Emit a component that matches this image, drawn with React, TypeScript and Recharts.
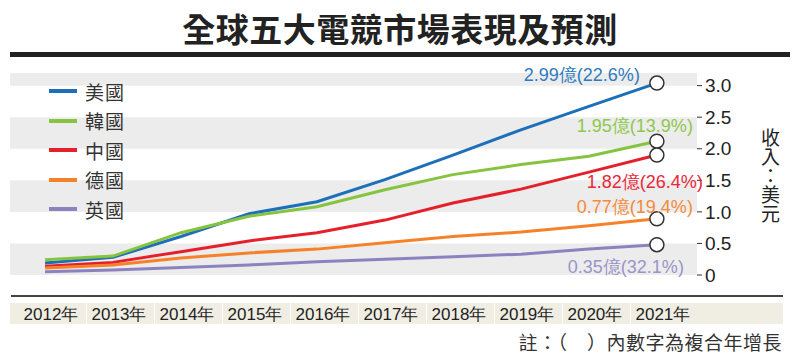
import { LineChart, Line, XAxis, YAxis, ReferenceArea, LabelList } from 'recharts';

// values (unit: 億美元, plotted against the right axis)
const years = ['2012年', '2013年', '2014年', '2015年', '2016年', '2017年', '2018年', '2019年', '2020年', '2021年'];
const usValues = [0.19, 0.28, 0.61, 0.97, 1.16, 1.51, 1.9, 2.3, 2.67, 3.04];
const krValues = [0.24, 0.3, 0.67, 0.93, 1.08, 1.35, 1.59, 1.75, 1.88, 2.12];
const cnValues = [0.14, 0.2, 0.37, 0.54, 0.67, 0.87, 1.14, 1.36, 1.63, 1.9];
const deValues = [0.11, 0.16, 0.27, 0.35, 0.41, 0.51, 0.61, 0.68, 0.78, 0.89];
const ukValues = [0.05, 0.08, 0.12, 0.16, 0.21, 0.25, 0.29, 0.33, 0.41, 0.48];
const countryNames = ['美國', '韓國', '中國', '德國', '英國'];
const endLabels = ['2.99億(22.6%)', '1.95億(13.9%)', '1.82億(26.4%)', '0.77億(19.4%)', '0.35億(32.1%)'];
const yTicks = [0, 0.5, 1, 1.5, 2, 2.5, 3];
const bandRanges: [number, number][] = [
  [0, 0.5],
  [1, 1.5],
  [2, 2.5],
  [3, 3.2],
];

const keys = ['us', 'kr', 'cn', 'de', 'uk'];
const lineColors = ['#1c6fb8', '#86c440', '#e5202b', '#f5822a', '#8d82c0'];
const labelColors = ['#2f7bc0', '#8cc84b', '#e8283a', '#f58a3a', '#9a94c8'];
// end label anchor offsets from the 2021 point
const labelOffsets = [
  [-17, -8],
  [36, -15],
  [46, 27],
  [36, -12],
  [27, 22],
];

const data = years.map((year, i) => ({
  pos: i,
  year,
  us: usValues[i],
  kr: krValues[i],
  cn: cnValues[i],
  de: deValues[i],
  uk: ukValues[i],
}));

const last = years.length - 1;
// x domain leaves room either side of the first / last year, like the original
const xDomain: [number, number] = [-0.515, last + 0.59];
const xTicks = years.map((_, i) => i);
const sans = 'Liberation Sans, Arial, sans-serif';
const cjk = '"Noto Sans CJK TC", "Noto Sans CJK SC", sans-serif';

function YearTick({ x, payload, index }: any) {
  const cx = x + 7;
  const left = index === 0 ? 10 : cx - 33;
  const right = index === last ? 783 : cx + 34;
  return (
    <g>
      <rect x={left} y={303} width={right - left} height={21} fill="#f0ede3" />
      <text x={x + 6} y={314} textAnchor="middle" dominantBaseline="central" fontSize={17} fontFamily={sans} fill="#222">
        {years[payload.value]}
      </text>
    </g>
  );
}

function endDot(p: any) {
  if (p.index !== last) return <g key={p.key ?? p.index} />;
  return <circle key={p.key ?? p.index} cx={p.cx} cy={p.cy} r={7} fill="#fff" stroke="#333" strokeWidth={1.5} />;
}

function endLabel(s: number) {
  return (p: any) => {
    if (p.index !== last) return null;
    return (
      <text
        x={p.x + labelOffsets[s][0]}
        y={p.y + labelOffsets[s][1]}
        textAnchor="end"
        dominantBaseline="central"
        fontSize={18}
        fontFamily={sans}
        fill={labelColors[s]}
      >
        {endLabels[s]}
      </text>
    );
  };
}

export default function App() {
  return (
    <div style={{ position: 'absolute', left: 0, top: 0, width: 800, height: 362, background: '#fff', overflow: 'hidden' }}>
      <div
        style={{
          position: 'absolute',
          left: 0,
          top: 8,
          width: 800,
          textAlign: 'center',
          fontFamily: cjk,
          fontWeight: 700,
          fontSize: 33,
          lineHeight: '40px',
          color: '#222',
          letterSpacing: 0.5,
        }}
      >
        全球五大電競市場表現及預測
      </div>
      <div style={{ position: 'absolute', left: 10, top: 52, width: 780, height: 5, background: '#222' }} />

      <LineChart width={800} height={362} data={data} margin={{ top: 73, right: 53, bottom: 57, left: 10 }}>
        {bandRanges.map(([a, b]) => (
          <ReferenceArea
            key={a}
            x1={xDomain[0]}
            x2={xDomain[1]}
            y1={a}
            y2={b}
            fill="#ececec"
            fillOpacity={1}
            stroke="none"
            ifOverflow="hidden"
          />
        ))}
        <XAxis
          dataKey="pos"
          type="number"
          domain={xDomain}
          allowDataOverflow
          ticks={xTicks}
          axisLine={false}
          tickLine={false}
          height={30}
          interval={0}
          tick={<YearTick />}
        />
        <YAxis
          orientation="right"
          domain={[0, 3.2]}
          ticks={yTicks}
          width={50}
          axisLine={false}
          tickSize={5}
          tickMargin={3}
          tickLine={{ stroke: '#333' }}
          tickFormatter={(v: number) => (v === 0 ? '0' : v.toFixed(1))}
          tick={{ fontSize: 19, fontFamily: sans, fill: '#222', textAnchor: 'start' }}
        />
        {keys.map((k, s) => (
          <Line
            key={k}
            dataKey={k}
            type="linear"
            stroke={lineColors[s]}
            strokeWidth={3}
            dot={endDot}
            activeDot={false}
            isAnimationActive={false}
          >
            <LabelList dataKey={k} content={endLabel(s)} />
          </Line>
        ))}
      </LineChart>

      {countryNames.map((name, s) => (
        <div
          key={name}
          style={{ position: 'absolute', left: 49, top: 79 + s * 29.6, height: 24, display: 'flex', alignItems: 'center' }}
        >
          <div style={{ width: 28, height: 4, background: lineColors[s] }} />
          <span style={{ marginLeft: 8, fontFamily: cjk, fontSize: 19, color: '#333', letterSpacing: 1 }}>{name}</span>
        </div>
      ))}

      <div
        style={{
          position: 'absolute',
          left: 759,
          top: 128,
          writingMode: 'vertical-rl',
          textOrientation: 'upright',
          fontFamily: cjk,
          fontSize: 19,
          lineHeight: '22px',
          color: '#222',
        }}
      >
        收入：美元
      </div>

      <div style={{ position: 'absolute', left: 11, top: 295, width: 772, height: 2, background: '#444' }} />
      <div
        style={{
          position: 'absolute',
          right: 18,
          top: 330,
          fontFamily: cjk,
          fontSize: 19,
          lineHeight: '24px',
          color: '#333',
          letterSpacing: 0.5,
        }}
      >
        註：（　）內數字為複合年增長
      </div>
    </div>
  );
}
